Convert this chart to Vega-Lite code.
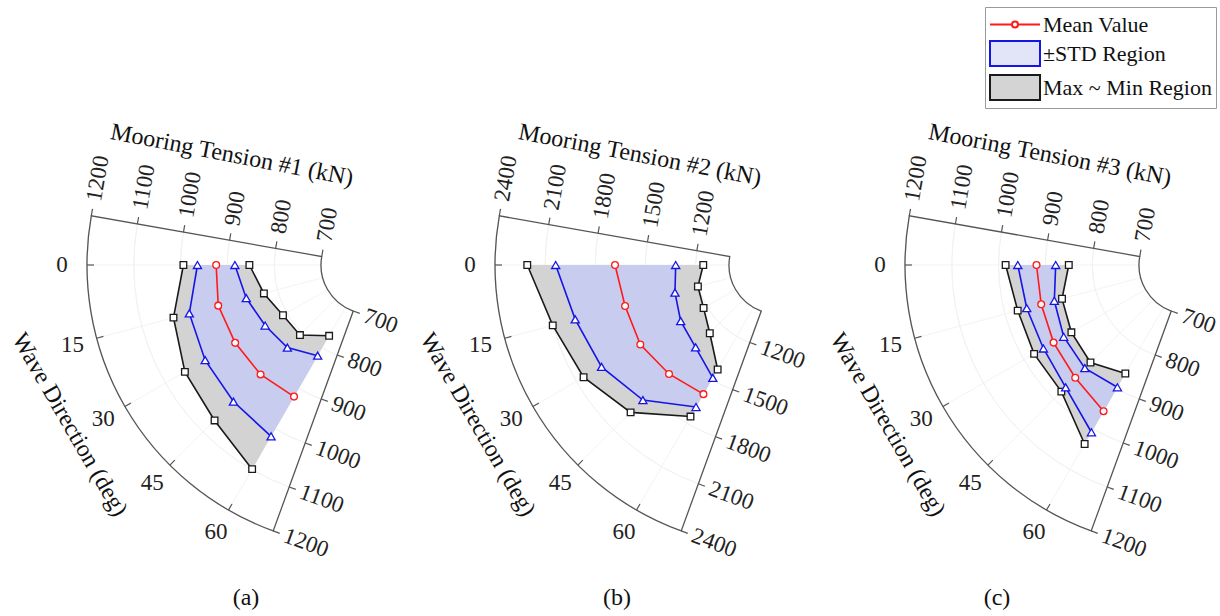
{
  "$schema": "https://vega.github.io/schema/vega-lite/v6.json",
  "padding": 0,
  "spacing": 0,
  "bounds": "flush",
  "background": "white",
  "config": {"view": {"stroke": null}, "font": "Liberation Serif"},
  "resolve": {"scale": {"x": "independent", "y": "independent", "theta": "independent", "radius": "independent"}},
  "datasets": {
    "tension": [
      {"panel": "a", "dir": 0, "max": 994, "plus": 964, "mean": 924, "minus": 884, "min": 853},
      {"panel": "a", "dir": 15, "max": 1030, "plus": 995, "mean": 931, "minus": 869, "min": 830},
      {"panel": "a", "dir": 30, "max": 1052, "plus": 1002, "mean": 928, "minus": 854, "min": 810},
      {"panel": "a", "dir": 45, "max": 1065, "plus": 1008, "mean": 926, "minus": 845, "min": 807},
      {"panel": "a", "dir": 60, "max": 1099, "plus": 1018, "mean": 920, "minus": 819, "min": 770},
      {"panel": "b", "dir": 0, "max": 2207, "plus": 2037, "mean": 1682, "minus": 1319, "min": 1154},
      {"panel": "b", "dir": 15, "max": 2102, "plus": 1963, "mean": 1654, "minus": 1345, "min": 1203},
      {"panel": "b", "dir": 30, "max": 2050, "plus": 1926, "mean": 1658, "minus": 1379, "min": 1221},
      {"panel": "b", "dir": 45, "max": 1954, "plus": 1850, "mean": 1629, "minus": 1404, "min": 1284},
      {"panel": "b", "dir": 60, "max": 1754, "plus": 1688, "mean": 1599, "minus": 1487, "min": 1429},
      {"panel": "c", "dir": 0, "max": 985, "plus": 959, "mean": 919, "minus": 878, "min": 850},
      {"panel": "c", "dir": 15, "max": 972, "plus": 952, "mean": 920, "minus": 891, "min": 874},
      {"panel": "c", "dir": 30, "max": 975, "plus": 952, "mean": 927, "minus": 902, "min": 883},
      {"panel": "c", "dir": 45, "max": 978, "plus": 965, "mean": 936, "minus": 907, "min": 890},
      {"panel": "c", "dir": 60, "max": 1037, "plus": 1008, "mean": 956, "minus": 897, "min": 863}
    ],
    "radialTicks": [
      {"panel": "a", "value": 700}, {"panel": "a", "value": 800}, {"panel": "a", "value": 900},
      {"panel": "a", "value": 1000}, {"panel": "a", "value": 1100}, {"panel": "a", "value": 1200},
      {"panel": "b", "value": 1200}, {"panel": "b", "value": 1500}, {"panel": "b", "value": 1800},
      {"panel": "b", "value": 2100}, {"panel": "b", "value": 2400},
      {"panel": "c", "value": 700}, {"panel": "c", "value": 800}, {"panel": "c", "value": 900},
      {"panel": "c", "value": 1000}, {"panel": "c", "value": 1100}, {"panel": "c", "value": 1200}
    ],
    "dirTicks": [{"dir": 0}, {"dir": 15}, {"dir": 30}, {"dir": 45}, {"dir": 60}],
    "frame": [
      {"panel": "a", "lo": 700, "hi": 1200},
      {"panel": "b", "lo": 1000, "hi": 2400},
      {"panel": "c", "lo": 700, "hi": 1200}
    ],
    "axisTitles": [
      {"panel": "a", "radial": "Mooring Tension #1 (kN)", "angular": "Wave Direction (deg)"},
      {"panel": "b", "radial": "Mooring Tension #2 (kN)", "angular": "Wave Direction (deg)"},
      {"panel": "c", "radial": "Mooring Tension #3 (kN)", "angular": "Wave Direction (deg)"}
    ],
    "legendEntries": [{"series": "Mean Value"}, {"series": "\u00a0\u00b1STD Region"}, {"series": "Max ~ Min Region"}]
  },
  "hconcat": [
    {
      "width": 408,
      "height": 580,
      "title": {"text": "(a)", "orient": "bottom", "anchor": "start", "align": "center", "dx": 246, "offset": 6, "font": "Liberation Serif", "fontSize": 24, "fontWeight": "normal", "color": "#111"},
      "encoding": {
        "x": {"field": "px", "type": "quantitative", "scale": {"domain": [-1.3074, 0.1343], "nice": false, "zero": false}, "axis": null},
        "y": {"field": "py", "type": "quantitative", "scale": {"domain": [-0.9364, 1.1131], "nice": false, "zero": false, "reverse": true}, "axis": null}
      },
      "layer": [
        {
          "data": {"name": "dirTicks"},
          "transform": [
            {"calculate": "datum.dir * PI / 180", "as": "th"},
            {"calculate": "-0.17314 * cos(datum.th)", "as": "px"},
            {"calculate": "0.17314 * sin(datum.th)", "as": "py"},
            {"calculate": "-cos(datum.th)", "as": "px2"},
            {"calculate": "sin(datum.th)", "as": "py2"}
          ],
          "mark": {"type": "rule", "color": "#f0f0f0", "strokeWidth": 0.8},
          "encoding": {"x2": {"field": "px2"}, "y2": {"field": "py2"}}
        },
        {
          "data": {"name": "radialTicks"},
          "transform": [{"filter": "datum.panel == 'a'"}, {"calculate": "0", "as": "px"}, {"calculate": "0", "as": "py"}],
          "mark": {"type": "arc", "filled": false, "color": "#f0f0f0", "strokeWidth": 0.8, "theta": 3.49066, "theta2": 4.88692},
          "encoding": {
            "radius": {"field": "value", "type": "quantitative", "scale": {"type": "linear", "domain": [700, 1200], "range": [49, 283], "zero": false}},
            "radius2": {"field": "value"}
          }
        },
        {
          "data": {"name": "tension"},
          "transform": [
            {"filter": "datum.panel == 'a'"},
            {"fold": ["max", "min"], "as": ["key", "value"]},
            {"calculate": "datum.key == 'max' ? datum.dir : 200 - datum.dir", "as": "ord"},
            {"calculate": "0.17314 + 0.82686 * (datum.value - 700) / 500", "as": "rho"},
            {"calculate": "-datum.rho * cos(datum.dir * PI / 180)", "as": "px"},
            {"calculate": "datum.rho * sin(datum.dir * PI / 180)", "as": "py"}
          ],
          "mark": {"type": "line", "fill": "#d3d3d3", "strokeOpacity": 0},
          "encoding": {"order": {"field": "ord", "type": "quantitative"}}
        },
        {
          "data": {"name": "tension"},
          "transform": [
            {"filter": "datum.panel == 'a'"},
            {"fold": ["plus", "minus"], "as": ["key", "value"]},
            {"calculate": "datum.key == 'plus' ? datum.dir : 200 - datum.dir", "as": "ord"},
            {"calculate": "0.17314 + 0.82686 * (datum.value - 700) / 500", "as": "rho"},
            {"calculate": "-datum.rho * cos(datum.dir * PI / 180)", "as": "px"},
            {"calculate": "datum.rho * sin(datum.dir * PI / 180)", "as": "py"}
          ],
          "mark": {"type": "line", "fill": "#c8ccee", "strokeOpacity": 0},
          "encoding": {"order": {"field": "ord", "type": "quantitative"}}
        },
        {
          "data": {"name": "frame"},
          "transform": [{"filter": "datum.panel == 'a'"}, {"calculate": "0", "as": "px"}, {"calculate": "0", "as": "py"}],
          "mark": {"type": "arc", "filled": false, "color": "#555555", "strokeWidth": 1.3, "theta": 3.49066, "theta2": 4.88692},
          "encoding": {"radius": {"field": "hi", "type": "quantitative"}, "radius2": {"field": "lo"}}
        },
        {
          "data": {"name": "dirTicks"},
          "transform": [
            {"calculate": "datum.dir * PI / 180", "as": "th"},
            {"calculate": "-cos(datum.th)", "as": "px"},
            {"calculate": "sin(datum.th)", "as": "py"},
            {"calculate": "-0.9753 * cos(datum.th)", "as": "px2"},
            {"calculate": "0.9753 * sin(datum.th)", "as": "py2"}
          ],
          "mark": {"type": "rule", "color": "#555555", "strokeWidth": 1.2},
          "encoding": {"x2": {"field": "px2"}, "y2": {"field": "py2"}}
        },
        {
          "data": {"name": "radialTicks"},
          "transform": [
            {"filter": "datum.panel == 'a'"},
            {"calculate": "0.17314 + 0.82686 * (datum.value - 700) / 500", "as": "rho"},
            {"calculate": "-datum.rho * cos(PI / 18)", "as": "px"},
            {"calculate": "-datum.rho * sin(PI / 18)", "as": "py"},
            {"calculate": "datum.px + 0.0247 * sin(PI / 18)", "as": "px2"},
            {"calculate": "datum.py - 0.0247 * cos(PI / 18)", "as": "py2"}
          ],
          "mark": {"type": "rule", "color": "#555555", "strokeWidth": 1.2},
          "encoding": {"x2": {"field": "px2"}, "y2": {"field": "py2"}}
        },
        {
          "data": {"name": "radialTicks"},
          "transform": [
            {"filter": "datum.panel == 'a'"},
            {"calculate": "0.17314 + 0.82686 * (datum.value - 700) / 500", "as": "rho"},
            {"calculate": "-datum.rho * cos(7 * PI / 18)", "as": "px"},
            {"calculate": "datum.rho * sin(7 * PI / 18)", "as": "py"},
            {"calculate": "datum.px + 0.0247 * sin(7 * PI / 18)", "as": "px2"},
            {"calculate": "datum.py + 0.0247 * cos(7 * PI / 18)", "as": "py2"}
          ],
          "mark": {"type": "rule", "color": "#555555", "strokeWidth": 1.2},
          "encoding": {"x2": {"field": "px2"}, "y2": {"field": "py2"}}
        },
        {
          "data": {"name": "radialTicks"},
          "transform": [
            {"filter": "datum.panel == 'a'"},
            {"calculate": "0.17314 + 0.82686 * (datum.value - 700) / 500", "as": "rho"},
            {"calculate": "-datum.rho * cos(PI / 18) + 0.053 * sin(PI / 18)", "as": "px"},
            {"calculate": "-datum.rho * sin(PI / 18) - 0.053 * cos(PI / 18)", "as": "py"}
          ],
          "mark": {"type": "text", "angle": -80, "align": "left", "baseline": "middle", "font": "Liberation Serif", "fontSize": 23, "color": "#222222"},
          "encoding": {"text": {"field": "value", "type": "quantitative"}}
        },
        {
          "data": {"name": "radialTicks"},
          "transform": [
            {"filter": "datum.panel == 'a'"},
            {"calculate": "0.17314 + 0.82686 * (datum.value - 700) / 500", "as": "rho"},
            {"calculate": "-datum.rho * cos(7 * PI / 18) + 0.0424 * sin(7 * PI / 18)", "as": "px"},
            {"calculate": "datum.rho * sin(7 * PI / 18) + 0.0424 * cos(7 * PI / 18)", "as": "py"}
          ],
          "mark": {"type": "text", "angle": 20, "align": "left", "baseline": "middle", "font": "Liberation Serif", "fontSize": 23, "color": "#222222"},
          "encoding": {"text": {"field": "value", "type": "quantitative"}}
        },
        {
          "data": {"name": "dirTicks"},
          "transform": [
            {"calculate": "-1.088 * cos(datum.dir * PI / 180)", "as": "px"},
            {"calculate": "1.088 * sin(datum.dir * PI / 180)", "as": "py"}
          ],
          "mark": {"type": "text", "align": "center", "baseline": "middle", "font": "Liberation Serif", "fontSize": 23, "color": "#222222"},
          "encoding": {"text": {"field": "dir", "type": "quantitative"}}
        },
        {
          "data": {"name": "axisTitles"},
          "transform": [
            {"filter": "datum.panel == 'a'"},
            {"calculate": "-0.548 * cos(PI / 18) + 0.297 * sin(PI / 18)", "as": "px"},
            {"calculate": "-0.548 * sin(PI / 18) - 0.297 * cos(PI / 18)", "as": "py"}
          ],
          "mark": {"type": "text", "angle": 11, "align": "center", "baseline": "middle", "font": "Liberation Serif", "fontSize": 24, "color": "#111111"},
          "encoding": {"text": {"field": "radial"}}
        },
        {
          "data": {"name": "axisTitles"},
          "transform": [
            {"filter": "datum.panel == 'a'"},
            {"calculate": "-1.2025 * cos(28 * PI / 180)", "as": "px"},
            {"calculate": "1.2025 * sin(28 * PI / 180)", "as": "py"}
          ],
          "mark": {"type": "text", "angle": 60, "align": "center", "baseline": "middle", "font": "Liberation Serif", "fontSize": 24, "color": "#111111"},
          "encoding": {"text": {"field": "angular"}}
        },
        {
          "data": {"name": "tension"},
          "transform": [
            {"filter": "datum.panel == 'a'"},
            {"fold": ["max", "min"], "as": ["key", "value"]},
            {"calculate": "0.17314 + 0.82686 * (datum.value - 700) / 500", "as": "rho"},
            {"calculate": "-datum.rho * cos(datum.dir * PI / 180)", "as": "px"},
            {"calculate": "datum.rho * sin(datum.dir * PI / 180)", "as": "py"}
          ],
          "mark": {"type": "line", "color": "#1a1a1a", "strokeWidth": 1.6, "point": {"shape": "square", "size": 44, "filled": false, "fill": "white", "stroke": "#1a1a1a", "strokeWidth": 1.3, "opacity": 1}},
          "encoding": {"detail": {"field": "key"}, "order": {"field": "dir", "type": "quantitative"}}
        },
        {
          "data": {"name": "tension"},
          "transform": [
            {"filter": "datum.panel == 'a'"},
            {"fold": ["plus", "minus"], "as": ["key", "value"]},
            {"calculate": "0.17314 + 0.82686 * (datum.value - 700) / 500", "as": "rho"},
            {"calculate": "-datum.rho * cos(datum.dir * PI / 180)", "as": "px"},
            {"calculate": "datum.rho * sin(datum.dir * PI / 180)", "as": "py"}
          ],
          "mark": {"type": "line", "color": "#1515e8", "strokeWidth": 1.6, "point": {"shape": "triangle-up", "size": 66, "filled": false, "fill": "white", "stroke": "#1515e8", "strokeWidth": 1.3, "opacity": 1}},
          "encoding": {"detail": {"field": "key"}, "order": {"field": "dir", "type": "quantitative"}}
        },
        {
          "data": {"name": "tension"},
          "transform": [
            {"filter": "datum.panel == 'a'"},
            {"calculate": "0.17314 + 0.82686 * (datum.mean - 700) / 500", "as": "rho"},
            {"calculate": "-datum.rho * cos(datum.dir * PI / 180)", "as": "px"},
            {"calculate": "datum.rho * sin(datum.dir * PI / 180)", "as": "py"}
          ],
          "mark": {"type": "line", "color": "#ff1a1a", "strokeWidth": 1.6, "point": {"shape": "circle", "size": 46, "filled": false, "fill": "white", "stroke": "#ff1a1a", "strokeWidth": 1.3, "opacity": 1}},
          "encoding": {"order": {"field": "dir", "type": "quantitative"}}
        }
      ]
    },
    {
      "width": 410,
      "height": 580,
      "title": {"text": "(b)", "orient": "bottom", "anchor": "start", "align": "center", "dx": 209, "offset": 6, "font": "Liberation Serif", "fontSize": 24, "fontWeight": "normal", "color": "#111"},
      "encoding": {
        "x": {"field": "px", "type": "quantitative", "scale": {"domain": [-1.3074, 0.1413], "nice": false, "zero": false}, "axis": null},
        "y": {"field": "py", "type": "quantitative", "scale": {"domain": [-0.9364, 1.1131], "nice": false, "zero": false, "reverse": true}, "axis": null}
      },
      "layer": [
        {
          "data": {"name": "dirTicks"},
          "transform": [
            {"calculate": "datum.dir * PI / 180", "as": "th"},
            {"calculate": "-0.17314 * cos(datum.th)", "as": "px"},
            {"calculate": "0.17314 * sin(datum.th)", "as": "py"},
            {"calculate": "-cos(datum.th)", "as": "px2"},
            {"calculate": "sin(datum.th)", "as": "py2"}
          ],
          "mark": {"type": "rule", "color": "#f0f0f0", "strokeWidth": 0.8},
          "encoding": {"x2": {"field": "px2"}, "y2": {"field": "py2"}}
        },
        {
          "data": {"name": "radialTicks"},
          "transform": [{"filter": "datum.panel == 'b'"}, {"calculate": "0", "as": "px"}, {"calculate": "0", "as": "py"}],
          "mark": {"type": "arc", "filled": false, "color": "#f0f0f0", "strokeWidth": 0.8, "theta": 3.49066, "theta2": 4.88692},
          "encoding": {
            "radius": {"field": "value", "type": "quantitative", "scale": {"type": "linear", "domain": [1000, 2400], "range": [49, 283], "zero": false}},
            "radius2": {"field": "value"}
          }
        },
        {
          "data": {"name": "tension"},
          "transform": [
            {"filter": "datum.panel == 'b'"},
            {"fold": ["max", "min"], "as": ["key", "value"]},
            {"calculate": "datum.key == 'max' ? datum.dir : 200 - datum.dir", "as": "ord"},
            {"calculate": "0.17314 + 0.82686 * (datum.value - 1000) / 1400", "as": "rho"},
            {"calculate": "-datum.rho * cos(datum.dir * PI / 180)", "as": "px"},
            {"calculate": "datum.rho * sin(datum.dir * PI / 180)", "as": "py"}
          ],
          "mark": {"type": "line", "fill": "#d3d3d3", "strokeOpacity": 0},
          "encoding": {"order": {"field": "ord", "type": "quantitative"}}
        },
        {
          "data": {"name": "tension"},
          "transform": [
            {"filter": "datum.panel == 'b'"},
            {"fold": ["plus", "minus"], "as": ["key", "value"]},
            {"calculate": "datum.key == 'plus' ? datum.dir : 200 - datum.dir", "as": "ord"},
            {"calculate": "0.17314 + 0.82686 * (datum.value - 1000) / 1400", "as": "rho"},
            {"calculate": "-datum.rho * cos(datum.dir * PI / 180)", "as": "px"},
            {"calculate": "datum.rho * sin(datum.dir * PI / 180)", "as": "py"}
          ],
          "mark": {"type": "line", "fill": "#c8ccee", "strokeOpacity": 0},
          "encoding": {"order": {"field": "ord", "type": "quantitative"}}
        },
        {
          "data": {"name": "frame"},
          "transform": [{"filter": "datum.panel == 'b'"}, {"calculate": "0", "as": "px"}, {"calculate": "0", "as": "py"}],
          "mark": {"type": "arc", "filled": false, "color": "#555555", "strokeWidth": 1.3, "theta": 3.49066, "theta2": 4.88692},
          "encoding": {"radius": {"field": "hi", "type": "quantitative"}, "radius2": {"field": "lo"}}
        },
        {
          "data": {"name": "dirTicks"},
          "transform": [
            {"calculate": "datum.dir * PI / 180", "as": "th"},
            {"calculate": "-cos(datum.th)", "as": "px"},
            {"calculate": "sin(datum.th)", "as": "py"},
            {"calculate": "-0.9753 * cos(datum.th)", "as": "px2"},
            {"calculate": "0.9753 * sin(datum.th)", "as": "py2"}
          ],
          "mark": {"type": "rule", "color": "#555555", "strokeWidth": 1.2},
          "encoding": {"x2": {"field": "px2"}, "y2": {"field": "py2"}}
        },
        {
          "data": {"name": "radialTicks"},
          "transform": [
            {"filter": "datum.panel == 'b'"},
            {"calculate": "0.17314 + 0.82686 * (datum.value - 1000) / 1400", "as": "rho"},
            {"calculate": "-datum.rho * cos(PI / 18)", "as": "px"},
            {"calculate": "-datum.rho * sin(PI / 18)", "as": "py"},
            {"calculate": "datum.px + 0.0247 * sin(PI / 18)", "as": "px2"},
            {"calculate": "datum.py - 0.0247 * cos(PI / 18)", "as": "py2"}
          ],
          "mark": {"type": "rule", "color": "#555555", "strokeWidth": 1.2},
          "encoding": {"x2": {"field": "px2"}, "y2": {"field": "py2"}}
        },
        {
          "data": {"name": "radialTicks"},
          "transform": [
            {"filter": "datum.panel == 'b'"},
            {"calculate": "0.17314 + 0.82686 * (datum.value - 1000) / 1400", "as": "rho"},
            {"calculate": "-datum.rho * cos(7 * PI / 18)", "as": "px"},
            {"calculate": "datum.rho * sin(7 * PI / 18)", "as": "py"},
            {"calculate": "datum.px + 0.0247 * sin(7 * PI / 18)", "as": "px2"},
            {"calculate": "datum.py + 0.0247 * cos(7 * PI / 18)", "as": "py2"}
          ],
          "mark": {"type": "rule", "color": "#555555", "strokeWidth": 1.2},
          "encoding": {"x2": {"field": "px2"}, "y2": {"field": "py2"}}
        },
        {
          "data": {"name": "radialTicks"},
          "transform": [
            {"filter": "datum.panel == 'b'"},
            {"calculate": "0.17314 + 0.82686 * (datum.value - 1000) / 1400", "as": "rho"},
            {"calculate": "-datum.rho * cos(PI / 18) + 0.053 * sin(PI / 18)", "as": "px"},
            {"calculate": "-datum.rho * sin(PI / 18) - 0.053 * cos(PI / 18)", "as": "py"}
          ],
          "mark": {"type": "text", "angle": -80, "align": "left", "baseline": "middle", "font": "Liberation Serif", "fontSize": 23, "color": "#222222"},
          "encoding": {"text": {"field": "value", "type": "quantitative"}}
        },
        {
          "data": {"name": "radialTicks"},
          "transform": [
            {"filter": "datum.panel == 'b'"},
            {"calculate": "0.17314 + 0.82686 * (datum.value - 1000) / 1400", "as": "rho"},
            {"calculate": "-datum.rho * cos(7 * PI / 18) + 0.0424 * sin(7 * PI / 18)", "as": "px"},
            {"calculate": "datum.rho * sin(7 * PI / 18) + 0.0424 * cos(7 * PI / 18)", "as": "py"}
          ],
          "mark": {"type": "text", "angle": 20, "align": "left", "baseline": "middle", "font": "Liberation Serif", "fontSize": 23, "color": "#222222"},
          "encoding": {"text": {"field": "value", "type": "quantitative"}}
        },
        {
          "data": {"name": "dirTicks"},
          "transform": [
            {"calculate": "-1.088 * cos(datum.dir * PI / 180)", "as": "px"},
            {"calculate": "1.088 * sin(datum.dir * PI / 180)", "as": "py"}
          ],
          "mark": {"type": "text", "align": "center", "baseline": "middle", "font": "Liberation Serif", "fontSize": 23, "color": "#222222"},
          "encoding": {"text": {"field": "dir", "type": "quantitative"}}
        },
        {
          "data": {"name": "axisTitles"},
          "transform": [
            {"filter": "datum.panel == 'b'"},
            {"calculate": "-0.548 * cos(PI / 18) + 0.297 * sin(PI / 18)", "as": "px"},
            {"calculate": "-0.548 * sin(PI / 18) - 0.297 * cos(PI / 18)", "as": "py"}
          ],
          "mark": {"type": "text", "angle": 11, "align": "center", "baseline": "middle", "font": "Liberation Serif", "fontSize": 24, "color": "#111111"},
          "encoding": {"text": {"field": "radial"}}
        },
        {
          "data": {"name": "axisTitles"},
          "transform": [
            {"filter": "datum.panel == 'b'"},
            {"calculate": "-1.2025 * cos(28 * PI / 180)", "as": "px"},
            {"calculate": "1.2025 * sin(28 * PI / 180)", "as": "py"}
          ],
          "mark": {"type": "text", "angle": 60, "align": "center", "baseline": "middle", "font": "Liberation Serif", "fontSize": 24, "color": "#111111"},
          "encoding": {"text": {"field": "angular"}}
        },
        {
          "data": {"name": "tension"},
          "transform": [
            {"filter": "datum.panel == 'b'"},
            {"fold": ["max", "min"], "as": ["key", "value"]},
            {"calculate": "0.17314 + 0.82686 * (datum.value - 1000) / 1400", "as": "rho"},
            {"calculate": "-datum.rho * cos(datum.dir * PI / 180)", "as": "px"},
            {"calculate": "datum.rho * sin(datum.dir * PI / 180)", "as": "py"}
          ],
          "mark": {"type": "line", "color": "#1a1a1a", "strokeWidth": 1.6, "point": {"shape": "square", "size": 44, "filled": false, "fill": "white", "stroke": "#1a1a1a", "strokeWidth": 1.3, "opacity": 1}},
          "encoding": {"detail": {"field": "key"}, "order": {"field": "dir", "type": "quantitative"}}
        },
        {
          "data": {"name": "tension"},
          "transform": [
            {"filter": "datum.panel == 'b'"},
            {"fold": ["plus", "minus"], "as": ["key", "value"]},
            {"calculate": "0.17314 + 0.82686 * (datum.value - 1000) / 1400", "as": "rho"},
            {"calculate": "-datum.rho * cos(datum.dir * PI / 180)", "as": "px"},
            {"calculate": "datum.rho * sin(datum.dir * PI / 180)", "as": "py"}
          ],
          "mark": {"type": "line", "color": "#1515e8", "strokeWidth": 1.6, "point": {"shape": "triangle-up", "size": 66, "filled": false, "fill": "white", "stroke": "#1515e8", "strokeWidth": 1.3, "opacity": 1}},
          "encoding": {"detail": {"field": "key"}, "order": {"field": "dir", "type": "quantitative"}}
        },
        {
          "data": {"name": "tension"},
          "transform": [
            {"filter": "datum.panel == 'b'"},
            {"calculate": "0.17314 + 0.82686 * (datum.mean - 1000) / 1400", "as": "rho"},
            {"calculate": "-datum.rho * cos(datum.dir * PI / 180)", "as": "px"},
            {"calculate": "datum.rho * sin(datum.dir * PI / 180)", "as": "py"}
          ],
          "mark": {"type": "line", "color": "#ff1a1a", "strokeWidth": 1.6, "point": {"shape": "circle", "size": 46, "filled": false, "fill": "white", "stroke": "#ff1a1a", "strokeWidth": 1.3, "opacity": 1}},
          "encoding": {"order": {"field": "dir", "type": "quantitative"}}
        }
      ]
    },
    {
      "width": 402,
      "height": 580,
      "title": {"text": "(c)", "orient": "bottom", "anchor": "start", "align": "center", "dx": 179, "offset": 6, "font": "Liberation Serif", "fontSize": 24, "fontWeight": "normal", "color": "#111"},
      "encoding": {
        "x": {"field": "px", "type": "quantitative", "scale": {"domain": [-1.3074, 0.1131], "nice": false, "zero": false}, "axis": null},
        "y": {"field": "py", "type": "quantitative", "scale": {"domain": [-0.9364, 1.1131], "nice": false, "zero": false, "reverse": true}, "axis": null}
      },
      "layer": [
        {
          "data": {"name": "dirTicks"},
          "transform": [
            {"calculate": "datum.dir * PI / 180", "as": "th"},
            {"calculate": "-0.17314 * cos(datum.th)", "as": "px"},
            {"calculate": "0.17314 * sin(datum.th)", "as": "py"},
            {"calculate": "-cos(datum.th)", "as": "px2"},
            {"calculate": "sin(datum.th)", "as": "py2"}
          ],
          "mark": {"type": "rule", "color": "#f0f0f0", "strokeWidth": 0.8},
          "encoding": {"x2": {"field": "px2"}, "y2": {"field": "py2"}}
        },
        {
          "data": {"name": "radialTicks"},
          "transform": [{"filter": "datum.panel == 'c'"}, {"calculate": "0", "as": "px"}, {"calculate": "0", "as": "py"}],
          "mark": {"type": "arc", "filled": false, "color": "#f0f0f0", "strokeWidth": 0.8, "theta": 3.49066, "theta2": 4.88692},
          "encoding": {
            "radius": {"field": "value", "type": "quantitative", "scale": {"type": "linear", "domain": [700, 1200], "range": [49, 283], "zero": false}},
            "radius2": {"field": "value"}
          }
        },
        {
          "data": {"name": "tension"},
          "transform": [
            {"filter": "datum.panel == 'c'"},
            {"fold": ["max", "min"], "as": ["key", "value"]},
            {"calculate": "datum.key == 'max' ? datum.dir : 200 - datum.dir", "as": "ord"},
            {"calculate": "0.17314 + 0.82686 * (datum.value - 700) / 500", "as": "rho"},
            {"calculate": "-datum.rho * cos(datum.dir * PI / 180)", "as": "px"},
            {"calculate": "datum.rho * sin(datum.dir * PI / 180)", "as": "py"}
          ],
          "mark": {"type": "line", "fill": "#d3d3d3", "strokeOpacity": 0},
          "encoding": {"order": {"field": "ord", "type": "quantitative"}}
        },
        {
          "data": {"name": "tension"},
          "transform": [
            {"filter": "datum.panel == 'c'"},
            {"fold": ["plus", "minus"], "as": ["key", "value"]},
            {"calculate": "datum.key == 'plus' ? datum.dir : 200 - datum.dir", "as": "ord"},
            {"calculate": "0.17314 + 0.82686 * (datum.value - 700) / 500", "as": "rho"},
            {"calculate": "-datum.rho * cos(datum.dir * PI / 180)", "as": "px"},
            {"calculate": "datum.rho * sin(datum.dir * PI / 180)", "as": "py"}
          ],
          "mark": {"type": "line", "fill": "#c8ccee", "strokeOpacity": 0},
          "encoding": {"order": {"field": "ord", "type": "quantitative"}}
        },
        {
          "data": {"name": "frame"},
          "transform": [{"filter": "datum.panel == 'c'"}, {"calculate": "0", "as": "px"}, {"calculate": "0", "as": "py"}],
          "mark": {"type": "arc", "filled": false, "color": "#555555", "strokeWidth": 1.3, "theta": 3.49066, "theta2": 4.88692},
          "encoding": {"radius": {"field": "hi", "type": "quantitative"}, "radius2": {"field": "lo"}}
        },
        {
          "data": {"name": "dirTicks"},
          "transform": [
            {"calculate": "datum.dir * PI / 180", "as": "th"},
            {"calculate": "-cos(datum.th)", "as": "px"},
            {"calculate": "sin(datum.th)", "as": "py"},
            {"calculate": "-0.9753 * cos(datum.th)", "as": "px2"},
            {"calculate": "0.9753 * sin(datum.th)", "as": "py2"}
          ],
          "mark": {"type": "rule", "color": "#555555", "strokeWidth": 1.2},
          "encoding": {"x2": {"field": "px2"}, "y2": {"field": "py2"}}
        },
        {
          "data": {"name": "radialTicks"},
          "transform": [
            {"filter": "datum.panel == 'c'"},
            {"calculate": "0.17314 + 0.82686 * (datum.value - 700) / 500", "as": "rho"},
            {"calculate": "-datum.rho * cos(PI / 18)", "as": "px"},
            {"calculate": "-datum.rho * sin(PI / 18)", "as": "py"},
            {"calculate": "datum.px + 0.0247 * sin(PI / 18)", "as": "px2"},
            {"calculate": "datum.py - 0.0247 * cos(PI / 18)", "as": "py2"}
          ],
          "mark": {"type": "rule", "color": "#555555", "strokeWidth": 1.2},
          "encoding": {"x2": {"field": "px2"}, "y2": {"field": "py2"}}
        },
        {
          "data": {"name": "radialTicks"},
          "transform": [
            {"filter": "datum.panel == 'c'"},
            {"calculate": "0.17314 + 0.82686 * (datum.value - 700) / 500", "as": "rho"},
            {"calculate": "-datum.rho * cos(7 * PI / 18)", "as": "px"},
            {"calculate": "datum.rho * sin(7 * PI / 18)", "as": "py"},
            {"calculate": "datum.px + 0.0247 * sin(7 * PI / 18)", "as": "px2"},
            {"calculate": "datum.py + 0.0247 * cos(7 * PI / 18)", "as": "py2"}
          ],
          "mark": {"type": "rule", "color": "#555555", "strokeWidth": 1.2},
          "encoding": {"x2": {"field": "px2"}, "y2": {"field": "py2"}}
        },
        {
          "data": {"name": "radialTicks"},
          "transform": [
            {"filter": "datum.panel == 'c'"},
            {"calculate": "0.17314 + 0.82686 * (datum.value - 700) / 500", "as": "rho"},
            {"calculate": "-datum.rho * cos(PI / 18) + 0.053 * sin(PI / 18)", "as": "px"},
            {"calculate": "-datum.rho * sin(PI / 18) - 0.053 * cos(PI / 18)", "as": "py"}
          ],
          "mark": {"type": "text", "angle": -80, "align": "left", "baseline": "middle", "font": "Liberation Serif", "fontSize": 23, "color": "#222222"},
          "encoding": {"text": {"field": "value", "type": "quantitative"}}
        },
        {
          "data": {"name": "radialTicks"},
          "transform": [
            {"filter": "datum.panel == 'c'"},
            {"calculate": "0.17314 + 0.82686 * (datum.value - 700) / 500", "as": "rho"},
            {"calculate": "-datum.rho * cos(7 * PI / 18) + 0.0424 * sin(7 * PI / 18)", "as": "px"},
            {"calculate": "datum.rho * sin(7 * PI / 18) + 0.0424 * cos(7 * PI / 18)", "as": "py"}
          ],
          "mark": {"type": "text", "angle": 20, "align": "left", "baseline": "middle", "font": "Liberation Serif", "fontSize": 23, "color": "#222222"},
          "encoding": {"text": {"field": "value", "type": "quantitative"}}
        },
        {
          "data": {"name": "dirTicks"},
          "transform": [
            {"calculate": "-1.088 * cos(datum.dir * PI / 180)", "as": "px"},
            {"calculate": "1.088 * sin(datum.dir * PI / 180)", "as": "py"}
          ],
          "mark": {"type": "text", "align": "center", "baseline": "middle", "font": "Liberation Serif", "fontSize": 23, "color": "#222222"},
          "encoding": {"text": {"field": "dir", "type": "quantitative"}}
        },
        {
          "data": {"name": "axisTitles"},
          "transform": [
            {"filter": "datum.panel == 'c'"},
            {"calculate": "-0.548 * cos(PI / 18) + 0.297 * sin(PI / 18)", "as": "px"},
            {"calculate": "-0.548 * sin(PI / 18) - 0.297 * cos(PI / 18)", "as": "py"}
          ],
          "mark": {"type": "text", "angle": 11, "align": "center", "baseline": "middle", "font": "Liberation Serif", "fontSize": 24, "color": "#111111"},
          "encoding": {"text": {"field": "radial"}}
        },
        {
          "data": {"name": "axisTitles"},
          "transform": [
            {"filter": "datum.panel == 'c'"},
            {"calculate": "-1.2025 * cos(28 * PI / 180)", "as": "px"},
            {"calculate": "1.2025 * sin(28 * PI / 180)", "as": "py"}
          ],
          "mark": {"type": "text", "angle": 60, "align": "center", "baseline": "middle", "font": "Liberation Serif", "fontSize": 24, "color": "#111111"},
          "encoding": {"text": {"field": "angular"}}
        },
        {
          "data": {"name": "tension"},
          "transform": [
            {"filter": "datum.panel == 'c'"},
            {"fold": ["max", "min"], "as": ["key", "value"]},
            {"calculate": "0.17314 + 0.82686 * (datum.value - 700) / 500", "as": "rho"},
            {"calculate": "-datum.rho * cos(datum.dir * PI / 180)", "as": "px"},
            {"calculate": "datum.rho * sin(datum.dir * PI / 180)", "as": "py"}
          ],
          "mark": {"type": "line", "color": "#1a1a1a", "strokeWidth": 1.6, "point": {"shape": "square", "size": 44, "filled": false, "fill": "white", "stroke": "#1a1a1a", "strokeWidth": 1.3, "opacity": 1}},
          "encoding": {"detail": {"field": "key"}, "order": {"field": "dir", "type": "quantitative"}}
        },
        {
          "data": {"name": "tension"},
          "transform": [
            {"filter": "datum.panel == 'c'"},
            {"fold": ["plus", "minus"], "as": ["key", "value"]},
            {"calculate": "0.17314 + 0.82686 * (datum.value - 700) / 500", "as": "rho"},
            {"calculate": "-datum.rho * cos(datum.dir * PI / 180)", "as": "px"},
            {"calculate": "datum.rho * sin(datum.dir * PI / 180)", "as": "py"}
          ],
          "mark": {"type": "line", "color": "#1515e8", "strokeWidth": 1.6, "point": {"shape": "triangle-up", "size": 66, "filled": false, "fill": "white", "stroke": "#1515e8", "strokeWidth": 1.3, "opacity": 1}},
          "encoding": {"detail": {"field": "key"}, "order": {"field": "dir", "type": "quantitative"}}
        },
        {
          "data": {"name": "tension"},
          "transform": [
            {"filter": "datum.panel == 'c'"},
            {"calculate": "0.17314 + 0.82686 * (datum.mean - 700) / 500", "as": "rho"},
            {"calculate": "-datum.rho * cos(datum.dir * PI / 180)", "as": "px"},
            {"calculate": "datum.rho * sin(datum.dir * PI / 180)", "as": "py"}
          ],
          "mark": {"type": "line", "color": "#ff1a1a", "strokeWidth": 1.6, "point": {"shape": "circle", "size": 46, "filled": false, "fill": "white", "stroke": "#ff1a1a", "strokeWidth": 1.3, "opacity": 1}},
          "encoding": {"order": {"field": "dir", "type": "quantitative"}}
        },
        {
          "data": {"name": "legendEntries"},
          "transform": [{"filter": "false"}],
          "mark": {"type": "point", "opacity": 1, "filled": true},
          "encoding": {
            "fill": {"field": "series", "type": "nominal",
              "scale": {"domain": ["Mean Value", "\u00a0\u00b1STD Region", "Max ~ Min Region"], "range": ["#ffffff", "#e2e4f7", "#d4d4d4"]},
              "legend": {"orient": "none", "legendX": 985, "legendY": 7, "title": null, "padding": 4, "rowPadding": 1, "symbolSize": 625, "symbolStrokeWidth": 2, "labelFont": "Liberation Serif", "labelFontSize": 22, "labelColor": "#111111", "labelOffset": 27, "labelLimit": 400, "strokeColor": "#9a9a9a", "fillColor": "#ffffff"}},
            "stroke": {"field": "series", "type": "nominal",
              "scale": {"domain": ["Mean Value", "\u00a0\u00b1STD Region", "Max ~ Min Region"], "range": ["#ff1a1a", "#1515e8", "#1a1a1a"]},
              "legend": {"orient": "none", "legendX": 985, "legendY": 7, "title": null, "padding": 4, "rowPadding": 1, "symbolSize": 625, "symbolStrokeWidth": 2, "labelFont": "Liberation Serif", "labelFontSize": 22, "labelColor": "#111111", "labelOffset": 27, "labelLimit": 400, "strokeColor": "#9a9a9a", "fillColor": "#ffffff"}},
            "shape": {"field": "series", "type": "nominal",
              "scale": {"domain": ["Mean Value", "\u00a0\u00b1STD Region", "Max ~ Min Region"], "range": ["M-1,0H0.76M1.24,0H3M1.24,0A0.24,0.24,0,1,1,0.76,0A0.24,0.24,0,1,1,1.24,0Z", "M-1,-1H3V1H-1Z", "M-1,-1H3V1H-1Z"]},
              "legend": {"orient": "none", "legendX": 985, "legendY": 7, "title": null, "padding": 4, "rowPadding": 1, "symbolSize": 625, "symbolStrokeWidth": 2, "labelFont": "Liberation Serif", "labelFontSize": 22, "labelColor": "#111111", "labelOffset": 27, "labelLimit": 400, "strokeColor": "#9a9a9a", "fillColor": "#ffffff"}}
          }
        }
      ]
    }
  ]
}
